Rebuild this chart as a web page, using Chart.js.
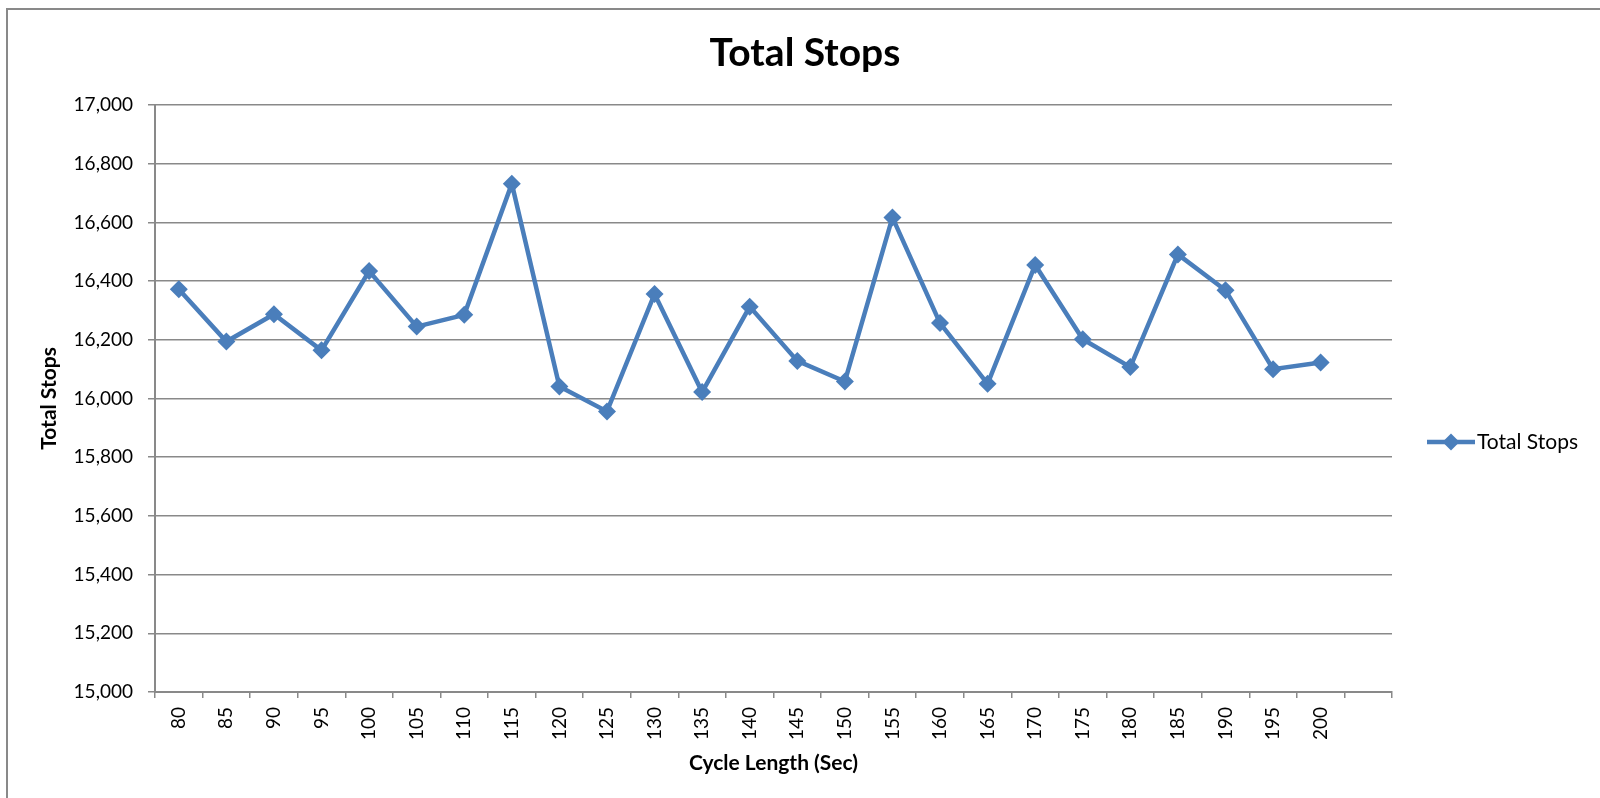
<!DOCTYPE html>
<html>
<head>
<meta charset="utf-8">
<title>Total Stops</title>
<script src="https://cdn.jsdelivr.net/npm/chart.js@4.4.0/dist/chart.umd.min.js"></script>
<style>
    body { margin: 0; background: #ffffff; }
    #wrap { position: relative; width: 1600px; height: 798px; }
</style>
</head>
<body>
<div id="wrap"><canvas id="stopsChart"></canvas></div>
<script>
// Datos
const cycleLengths = [80, 85, 90, 95, 100, 105, 110, 115, 120, 125, 130, 135, 140,
                      145, 150, 155, 160, 165, 170, 175, 180, 185, 190, 195, 200];
const totalStops = [16372, 16194, 16287, 16164, 16434, 16245, 16285, 16732, 16041, 15956,
                    16356, 16022, 16313, 16128, 16058, 16617, 16257, 16050, 16455, 16202,
                    16107, 16491, 16369, 16100, 16123];
const yTicks = [15000, 15200, 15400, 15600, 15800, 16000, 16200, 16400, 16600, 16800, 17000];

const chartTitle = 'Total Stops';
const xTitle = 'Cycle Length (Sec)';
const yTitle = 'Total Stops';
const seriesName = 'Total Stops';

const BLUE = '#4a7ebb';
const GRIS = '#898989';
const FUENTE = 'Lato, "Liberation Sans", sans-serif';

// Excel deja una categoria vacia al final
const labels = cycleLengths.map(String).concat(['']);

// Titulo, leyenda y marco dibujados a mano
const decoracion = {
    id: 'decoracion',
    beforeDraw(chart) {
        const ctx = chart.ctx;
        ctx.save();
        ctx.strokeStyle = GRIS;
        ctx.lineWidth = 2;
        ctx.strokeRect(7, 9, 1620, 820);
        ctx.restore();
    },
    afterDraw(chart) {
        const ctx = chart.ctx;
        ctx.save();
        // titulo
        ctx.fillStyle = '#000';
        ctx.font = 'bold 39px ' + FUENTE;
        ctx.textAlign = 'center';
        ctx.textBaseline = 'alphabetic';
        ctx.fillText(chartTitle, 805, 66);

        // leyenda
        const ly = 442;
        ctx.strokeStyle = BLUE;
        ctx.lineWidth = 4.5;
        ctx.beginPath();
        ctx.moveTo(1427, ly);
        ctx.lineTo(1475, ly);
        ctx.stroke();
        ctx.fillStyle = BLUE;
        ctx.beginPath();
        ctx.moveTo(1451, ly - 8.5);
        ctx.lineTo(1459.5, ly);
        ctx.lineTo(1451, ly + 8.5);
        ctx.lineTo(1442.5, ly);
        ctx.closePath();
        ctx.fill();
        ctx.fillStyle = '#000';
        ctx.font = '21px ' + FUENTE;
        ctx.textAlign = 'left';
        ctx.textBaseline = 'middle';
        ctx.fillText(seriesName, 1477, ly);
        ctx.restore();
    }
};

function initChart() {
    const ctx = document.getElementById('stopsChart').getContext('2d');
    return new Chart(ctx, {
        type: 'line',
        data: {
            labels: labels,
            datasets: [{
                label: seriesName,
                data: totalStops,
                borderColor: BLUE,
                backgroundColor: BLUE,
                borderWidth: 4.5,
                pointStyle: 'rectRot',
                pointRadius: 9,
                pointBorderWidth: 0,
                pointBackgroundColor: BLUE,
                tension: 0,
                fill: false
            }]
        },
        options: {
            responsive: true,
            maintainAspectRatio: false,
            animation: false,
            layout: { padding: { left: 35, right: 208, top: 105, bottom: 0 } },
            plugins: {
                legend: { display: false },
                title: { display: false },
                tooltip: { enabled: false }
            },
            scales: {
                x: {
                    type: 'category',
                    offset: true,
                    grid: {
                        offset: true,
                        drawOnChartArea: false,
                        drawTicks: true,
                        tickLength: 6,
                        color: GRIS,
                        lineWidth: 1.5
                    },
                    border: { color: GRIS, width: 2 },
                    ticks: {
                        color: '#000',
                        font: { family: FUENTE, size: 19 },
                        minRotation: 90,
                        maxRotation: 90,
                        padding: 9,
                        autoSkip: false
                    },
                    title: {
                        display: true,
                        text: xTitle,
                        color: '#000',
                        font: { family: FUENTE, size: 21, weight: 'bold' },
                        padding: { top: 4, bottom: 22 }
                    },
                    afterFit(scale) { scale.height = 106; }
                },
                y: {
                    min: yTicks[0],
                    max: yTicks[yTicks.length - 1],
                    afterBuildTicks(scale) {
                        scale.ticks = yTicks.map(v => ({ value: v }));
                    },
                    grid: {
                        color: GRIS,
                        lineWidth: 1.5,
                        drawTicks: true,
                        tickLength: 7
                    },
                    border: { color: GRIS, width: 2 },
                    ticks: {
                        color: '#000',
                        font: { family: FUENTE, size: 19 },
                        padding: 15,
                        callback: v => v.toLocaleString('en-US')
                    },
                    title: {
                        display: true,
                        text: yTitle,
                        color: '#000',
                        font: { family: FUENTE, size: 21, weight: 'bold' },
                        padding: { top: 2, bottom: 4 }
                    },
                    afterFit(scale) { scale.width = 120; }
                }
            }
        },
        plugins: [decoracion]
    });
}

const stopsChart = initChart();
</script>
</body>
</html>
